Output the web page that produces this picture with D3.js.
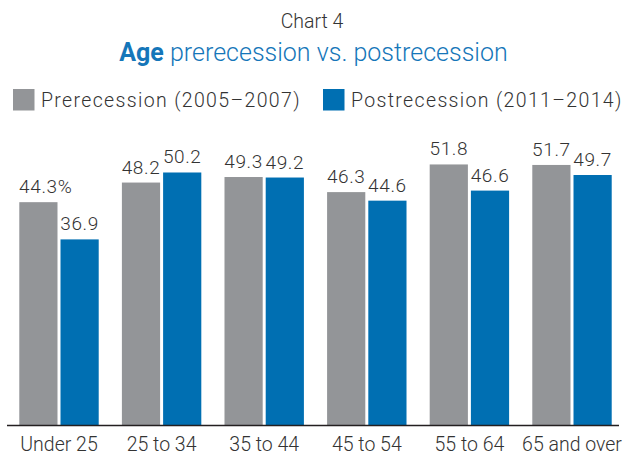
<!DOCTYPE html>
<html>
<head>
<meta charset="utf-8">
<script src="https://cdn.jsdelivr.net/npm/d3@7"></script>
<style>
  html, body { margin: 0; padding: 0; background: #fff; }
  svg { display: block; font-family: Roboto, "Liberation Sans", sans-serif; font-weight: 300; }
</style>
</head>
<body>
<svg id="chart" width="624" height="455"></svg>
<script>
// Age groups and the share for each period (percent)
const categories = ["Under 25", "25 to 34", "35 to 44", "45 to 54", "55 to 64", "65 and over"];
const seriesNames = ["Prerecession (2005\u20132007)", "Postrecession (2011\u20132014)"];
const prerecession = [44.3, 48.2, 49.3, 46.3, 51.8, 51.7];
const postrecession = [36.9, 50.2, 49.2, 44.6, 46.6, 49.7];
const labelText = ["44.3", "48.2", "49.3", "46.3", "51.8", "51.7"];
const labelTextPost = ["36.9", "50.2", "49.2", "44.6", "46.6", "49.7"];

const colors = ["#939598", "#006fb2"];
const textColor = "#333333";
const titleBlue = "#1576b9";

const svg = d3.select("#chart");

const x = d3.scaleBand()
  .domain(categories)
  .range([7.7, 623.3])
  .paddingInner(0.226)
  .paddingOuter(0.113);

const xInner = d3.scaleBand()
  .domain([0, 1])
  .range([0, x.bandwidth()])
  .paddingInner(0.073);

const y = d3.scaleLinear()
  .domain([0, 60])
  .range([425, 425 - 60 * 5.03]);

// Titles
svg.append("text")
  .attr("x", 312).attr("y", 27.7)
  .attr("text-anchor", "middle")
  .attr("font-size", 19.5)
  .attr("fill", textColor)
  .text("Chart 4");

const sub = svg.append("text")
  .attr("x", 313.5).attr("y", 61)
  .attr("text-anchor", "middle")
  .attr("font-size", 25)
  .attr("fill", titleBlue);
sub.append("tspan").attr("font-weight", 700).text("Age");
sub.append("tspan").text(" prerecession vs. postrecession");

// Legend
const legendX = [13, 323];
const legend = svg.append("g");
seriesNames.forEach((name, i) => {
  legend.append("rect")
    .attr("x", legendX[i]).attr("y", 89)
    .attr("width", 21.5).attr("height", 21.5)
    .attr("fill", colors[i]);
  legend.append("text")
    .attr("x", legendX[i] + 28).attr("y", 107.3)
    .attr("font-size", 19.5)
    .attr("letter-spacing", 1.35)
    .attr("fill", textColor)
    .text(name);
});

// Bars
const rows = categories.map((c, i) => ({
  cat: c,
  vals: [prerecession[i], postrecession[i]],
  labels: [labelText[i], labelTextPost[i]],
  idx: i
}));

const groups = svg.append("g").selectAll("g")
  .data(rows).join("g")
  .attr("transform", d => `translate(${x(d.cat)},0)`);

groups.selectAll("rect")
  .data(d => d.vals.map((v, k) => ({ v, k })))
  .join("rect")
  .attr("x", d => xInner(d.k))
  .attr("y", d => y(d.v))
  .attr("width", xInner.bandwidth())
  .attr("height", d => y(0) - y(d.v))
  .attr("fill", d => colors[d.k]);

// Value labels (the first one carries a % sign hanging to the right)
groups.each(function(d) {
  const g = d3.select(this);
  d.vals.forEach((v, k) => {
    const cx = xInner(k) + xInner.bandwidth() / 2;
    const t = g.append("text")
      .attr("x", cx)
      .attr("y", y(v) - 9)
      .attr("text-anchor", "middle")
      .attr("font-size", 19)
      .attr("letter-spacing", 0.6)
      .attr("fill", textColor)
      .text(d.labels[k]);
    if (d.idx === 0 && k === 0) {
      const w = t.node().getComputedTextLength();
      g.append("text")
        .attr("x", cx + w / 2)
        .attr("y", y(v) - 9)
        .attr("font-size", 19)
        .attr("fill", textColor)
        .text("%");
    }
  });
});

// Baseline
svg.append("line")
  .attr("x1", 7).attr("x2", 619)
  .attr("y1", y(0) + 0.5).attr("y2", y(0) + 0.5)
  .attr("stroke", "#231f20")
  .attr("stroke-width", 1.3);

// Category labels
const xAxis = d3.axisBottom(x).tickSize(0).tickPadding(0);
const axisG = svg.append("g")
  .attr("transform", `translate(0,${y(0)})`)
  .call(xAxis);
axisG.select(".domain").remove();
axisG.selectAll("text")
  .attr("dy", null)
  .attr("y", 25.5)
  .attr("font-size", 19.5)
  .attr("font-family", "Roboto, 'Liberation Sans', sans-serif")
  .attr("font-weight", 300)
  .attr("fill", textColor);
</script>
</body>
</html>
